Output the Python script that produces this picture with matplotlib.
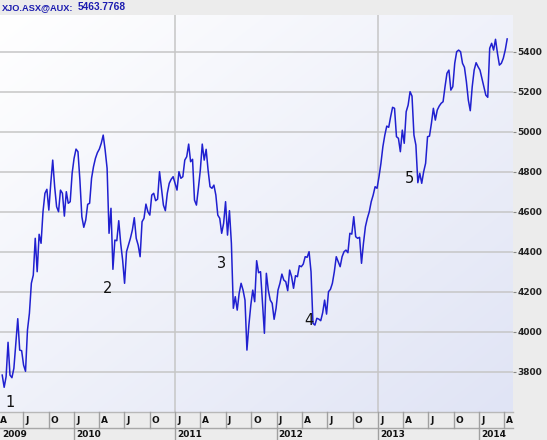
import numpy as np
import pandas as pd
import matplotlib
matplotlib.use("Agg")
import matplotlib.pyplot as plt
import matplotlib.dates as mdates
from matplotlib.transforms import blended_transform_factory

# ---------------- data (weekly closes) ----------------
start_date = "2009-04-17"
end_date = "2014-04-11"
values_2009 = [3783, 3722, 3775, 3947, 3783, 3770, 3817, 3942, 4065, 3908, 3905, 3833,
               3802, 4008, 4092, 4242, 4283, 4467, 4300, 4487, 4442, 4600, 4692, 4712,
               4608, 4742, 4858, 4725, 4625, 4600, 4708, 4692, 4578, 4700, 4642, 4650,
               4792, 4867, 4913, 4900, 4758, 4575, 4522, 4558, 4637, 4642, 4767, 4825,
               4867, 4895, 4913]
values_2010 = [4942, 4983, 4908, 4817, 4492, 4617, 4312, 4458, 4455, 4555, 4442, 4358,
               4242, 4400, 4433, 4467, 4508, 4570, 4467, 4433, 4375, 4550, 4567, 4638,
               4600, 4583, 4683, 4692, 4655, 4663, 4800, 4717, 4633, 4605, 4692, 4742,
               4762, 4775, 4742, 4708, 4800, 4767, 4775, 4858, 4875, 4938, 4850, 4862,
               4658, 4633, 4717, 4808]
values_2011_12 = [4938, 4858, 4912, 4808, 4725, 4717, 4733, 4683, 4583, 4567, 4492, 4542,
                  4650, 4483, 4605, 4442, 4117, 4175, 4108, 4192, 4242, 4208, 4158, 3908,
                  4033, 4133, 4208, 4150, 4355, 4295, 4300, 4150, 3992, 4292, 4208, 4158,
                  4142, 4062, 4117, 4208, 4242, 4288, 4258, 4250, 4205, 4308, 4275, 4217,
                  4280, 4275, 4330, 4325, 4338, 4375, 4372, 4400, 4300, 4042, 4033, 4067,
                  4063, 4055, 4095, 4158, 4088, 4200, 4212, 4242, 4300, 4375, 4350, 4325,
                  4375, 4400, 4408, 4395, 4492, 4488, 4575, 4475, 4467, 4472, 4342, 4442,
                  4525]
values_2013_14 = [4567, 4600, 4650, 4683, 4725, 4717, 4775, 4842, 4925, 4983, 5028, 5022,
                  5075, 5122, 5117, 4975, 4967, 4900, 5008, 4942, 5100, 5133, 5200, 5178,
                  4983, 4933, 4745, 4792, 4742, 4800, 4842, 4975, 4978, 5042, 5117, 5058,
                  5108, 5128, 5142, 5150, 5225, 5292, 5308, 5208, 5225, 5342, 5400, 5408,
                  5400, 5342, 5322, 5250, 5158, 5105, 5225, 5308, 5345, 5325, 5308, 5267,
                  5225, 5183, 5172, 5417, 5442, 5408, 5462, 5392, 5333, 5342, 5367, 5408,
                  5463.7768]

wave_labels = ["1", "2", "3", "4", "5"]
wave_dates = ["2009-05-15", "2010-05-03", "2011-06-17", "2012-04-25", "2013-04-25"]
wave_values = [3644, 4218, 4342, 4058, 4768]

y_ticks = [3800, 4000, 4200, 4400, 4600, 4800, 5000, 5200, 5400]
title_symbol = "XJO.ASX@AUX:"
title_value = "5463.7768"
x_start = "2009-04-09"
x_end = "2014-05-02"
y_min, y_max = 3598.5, 5583.5

values = values_2009 + values_2010 + values_2011_12 + values_2013_14
dates = pd.date_range(start_date, end_date, periods=len(values))

# ---------------- figure ----------------
W, H = 547, 440
fig = plt.figure(figsize=(W / 100, H / 100), dpi=100, facecolor="#ececec")
ax_left, ax_right, ax_top, ax_bot = 0, 513, 15, 412
ax = fig.add_axes([ax_left / W, (H - ax_bot) / H, (ax_right - ax_left) / W, (ax_bot - ax_top) / H])

# gradient background
gx, gy = np.meshgrid(np.linspace(0, 1, 200), np.linspace(0, 1, 200))
t = np.clip((gx + gy) / 2.0, 0, 1)  # 0 at top-left, 1 at bottom-right (origin upper)
c0 = np.array([1.0, 1.0, 1.0])
c1 = np.array([0xE0, 0xE4, 0xF5]) / 255.0
img = c0[None, None, :] * (1 - t[..., None]) + c1[None, None, :] * t[..., None]
ax.imshow(img, extent=[0, 1, 0, 1], transform=ax.transAxes, aspect="auto",
          zorder=0, origin="upper", interpolation="bilinear")

ax.set_xlim(pd.Timestamp(x_start), pd.Timestamp(x_end))
ax.set_ylim(y_min, y_max)

# grid
for v in y_ticks:
    ax.axhline(v, color="#c6c6c6", lw=1.1, zorder=1)
for yr in [2011, 2013]:
    ax.axvline(pd.Timestamp(f"{yr}-01-01"), color="#c6c6c6", lw=1.1, zorder=1)

ax.plot(dates, values, color="#2020d0", lw=1.1, zorder=3)

for lab, d, v in zip(wave_labels, wave_dates, wave_values):
    ax.text(pd.Timestamp(d), v, lab, fontsize=10.5, color="#111111",
            ha="center", va="center", zorder=4)

for s in ax.spines.values():
    s.set_visible(False)

# y axis on right
ax.yaxis.tick_right()
ax.set_yticks(y_ticks)
ax.set_yticklabels([str(v) for v in y_ticks], fontsize=6.5, fontweight="bold", color="#222222")
ax.tick_params(axis="y", length=2.5, width=0.8, color="#888888", pad=0.6)
ax.set_xticks([])

# bottom time strip
trans = blended_transform_factory(ax.transData, ax.transAxes)
hpx = ax_bot - ax_top
def fy(ypx):
    return (ax_bot - ypx) / hpx

ax.plot([0, 1], [fy(412), fy(412)], transform=ax.transAxes, color="#b8b8b8", lw=1, clip_on=False)
ax.plot([0, 1], [fy(428), fy(428)], transform=ax.transAxes, color="#a8a8a8", lw=1, clip_on=False)

xmin = pd.Timestamp(x_start)
month_letters = {1: "J", 4: "A", 7: "J", 10: "O"}
for d in pd.date_range("2009-04-01", "2014-04-01", freq="QS-JAN"):
    is_year = d.month == 1
    ytop = fy(412)
    ybot = fy(440) if is_year else fy(428)
    ax.plot([d, d], [ytop, ybot], transform=trans, color="#a0a0a0", lw=1, clip_on=False)
    ax.text(d + pd.Timedelta(days=7), fy(420.5), month_letters[d.month], transform=trans,
            fontsize=6.5, fontweight="bold", color="#111111", ha="left", va="center",
            clip_on=False)
for yr in range(2009, 2015):
    d = max(pd.Timestamp(f"{yr}-01-01"), xmin)
    ax.text(d + pd.Timedelta(days=7), fy(434.5), str(yr), transform=trans,
            fontsize=6.5, fontweight="bold", color="#111111", ha="left", va="center",
            clip_on=False)

# title bar
fig.text(2 / W, 1 - 7.5 / H, title_symbol, fontsize=6.7, fontweight="bold",
         family="Liberation Sans", color="#1c1cb0", ha="left", va="center")
fig.text(78 / W, 1 - 7.5 / H, title_value, fontsize=7.3, fontweight="bold",
         family="Liberation Sans", color="#1c1cb0", ha="left", va="center")

fig.savefig("out.png", dpi=100, facecolor=fig.get_facecolor())
